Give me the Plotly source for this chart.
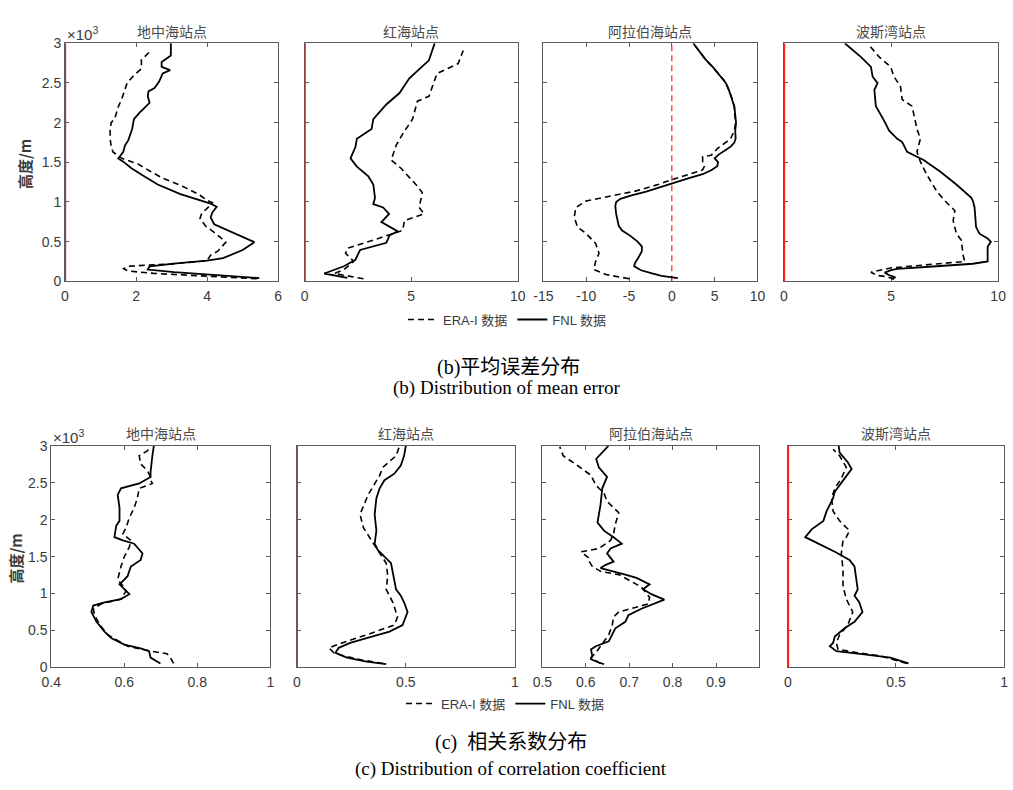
import plotly.graph_objects as go

W, H = 1013, 790

stations = ["地中海站点", "红海站点", "阿拉伯海站点", "波斯湾站点"]

# ---------- (b) mean error ----------
me_med_fnl_h = [41, 74, 115, 148, 190, 230, 260, 292, 395, 494, 560, 640, 720, 807, 870, 940, 980, 1100, 1220, 1322, 1425, 1508, 1549, 1632, 1714, 1776, 1920, 2044, 2126, 2250, 2332, 2394, 2435, 2517, 2620, 2662, 2703, 2765, 2847, 3000]
me_med_fnl = [5.47, 4.36, 3.07, 2.33, 2.38, 3.2, 4.0, 4.45, 5.0, 5.33, 5.0, 4.55, 4.2, 4.1, 4.15, 4.27, 4.1, 3.25, 2.61, 2.24, 1.87, 1.64, 1.5, 1.64, 1.69, 1.78, 1.89, 1.94, 2.1, 2.38, 2.33, 2.35, 2.52, 2.65, 2.75, 2.96, 2.72, 2.72, 2.98, 2.98]
me_med_era_h = [33, 100, 130, 160, 190, 220, 260, 330, 380, 494, 600, 700, 790, 860, 920, 990, 1020, 1100, 1200, 1300, 1400, 1480, 1550, 1630, 1700, 1800, 1900, 2000, 2050, 2200, 2300, 2414, 2500, 2600, 2680, 2790, 2917]
me_med_era = [5.4, 2.5, 1.78, 1.65, 1.75, 3.0, 4.0, 4.1, 4.3, 4.53, 4.25, 3.95, 3.8, 3.85, 4.0, 4.15, 4.0, 3.75, 3.3, 2.75, 2.35, 2.05, 1.6, 1.35, 1.3, 1.27, 1.27, 1.3, 1.4, 1.5, 1.6, 1.69, 1.75, 1.95, 2.15, 2.15, 2.44]

me_red_fnl_h = [45, 99, 190, 272, 395, 486, 581, 630, 746, 849, 931, 972, 1055, 1220, 1322, 1446, 1549, 1693, 1796, 1838, 1920, 2044, 2229, 2373, 2559, 2785, 3000]
me_red_fnl = [2.0, 0.92, 1.84, 2.38, 2.6, 3.83, 3.99, 4.37, 3.6, 3.96, 3.68, 3.22, 3.3, 3.22, 2.99, 2.45, 2.15, 2.38, 2.45, 2.68, 3.14, 3.22, 3.83, 4.45, 4.91, 5.83, 6.1]
me_red_era_h = [33, 99, 148, 251, 354, 416, 519, 643, 766, 849, 931, 1117, 1199, 1425, 1529, 1714, 1858, 2044, 2270, 2332, 2620, 2744, 2909]
me_red_era = [2.76, 1.4, 1.84, 2.3, 1.92, 2.0, 3.22, 4.6, 4.68, 5.6, 5.37, 5.52, 5.29, 4.52, 4.06, 4.29, 4.6, 5.06, 5.29, 5.83, 6.21, 7.2, 7.44]

me_ara_fnl_h = [40, 70, 100, 140, 190, 230, 300, 380, 440, 500, 570, 640, 700, 780, 850, 950, 1000, 1040, 1080, 1130, 1180, 1230, 1260, 1300, 1350, 1400, 1450, 1500, 1550, 1600, 1650, 1700, 1750, 1800, 1900, 2000, 2100, 2200, 2300, 2400, 2500, 2600, 2700, 2800, 3000]
me_ara_fnl = [0.7, -1.2, -2.3, -3.6, -4.4, -4.3, -3.9, -3.5, -3.5, -4.0, -4.8, -5.8, -6.2, -6.4, -6.5, -6.6, -6.5, -6.0, -4.8, -3.0, -1.5, -0.3, 0.8, 2.0, 3.6, 4.6, 5.3, 5.4, 5.0, 5.5, 6.2, 6.9, 7.3, 7.45, 7.4, 7.5, 7.4, 7.3, 7.0, 6.7, 6.3, 5.6, 4.8, 3.9, 2.5]
me_ara_era_h = [33, 86, 148, 251, 354, 478, 601, 684, 807, 931, 1013, 1075, 1137, 1220, 1281, 1343, 1405, 1450, 1508, 1570, 1590, 1673, 1796, 1900, 2000, 2100, 2200, 2300, 2400, 2500, 2600, 2700, 2800, 3000]
me_ara_era = [-5.0, -7.7, -9.1, -8.9, -8.5, -8.9, -10.0, -11.0, -11.4, -11.2, -10.0, -7.3, -4.26, -1.6, -0.04, 1.87, 3.6, 3.8, 3.6, 3.6, 4.6, 5.32, 6.86, 7.3, 7.45, 7.35, 7.3, 7.05, 6.7, 6.35, 5.6, 4.8, 3.9, 2.5]

me_per_fnl_h = [30, 50, 80, 110, 140, 157, 190, 222, 251, 437, 499, 540, 601, 684, 931, 1014, 1055, 1220, 1384, 1529, 1632, 1673, 1755, 1796, 1899, 2023, 2208, 2414, 2497, 2579, 2703, 2826, 3000]
me_per_fnl = [5.0, 5.2, 4.9, 4.7, 5.0, 5.29, 7.13, 8.82, 9.51, 9.51, 9.66, 9.51, 9.13, 8.97, 8.9, 8.82, 8.74, 8.05, 7.29, 6.52, 5.75, 5.67, 5.52, 5.29, 4.91, 4.68, 4.29, 4.22, 4.37, 4.14, 4.06, 3.6, 2.84]
me_per_era_h = [25, 58, 74, 115, 169, 210, 251, 334, 519, 601, 766, 890, 1014, 1137, 1343, 1508, 1632, 1796, 1920, 2208, 2290, 2455, 2579, 2703, 2826, 2971]
me_per_era = [5.14, 4.83, 4.37, 4.06, 4.98, 6.83, 8.44, 8.36, 8.28, 8.05, 7.9, 7.98, 7.52, 7.13, 6.67, 6.37, 6.21, 6.37, 6.21, 5.98, 5.52, 5.44, 5.14, 4.98, 4.45, 3.99]

# ---------- (c) correlation coefficient ----------
cc_med_fnl_h = [53, 132, 220, 256, 309, 397, 485, 617, 750, 838, 882, 926, 992, 1058, 1125, 1169, 1235, 1367, 1455, 1544, 1676, 1720, 1764, 1918, 1985, 2161, 2337, 2426, 2492, 2580, 2647, 2867, 3000]
cc_med_fnl = [0.699, 0.672, 0.668, 0.645, 0.6, 0.564, 0.546, 0.524, 0.51, 0.515, 0.546, 0.591, 0.614, 0.6, 0.587, 0.596, 0.609, 0.618, 0.645, 0.65, 0.627, 0.596, 0.573, 0.578, 0.587, 0.587, 0.582, 0.591, 0.641, 0.672, 0.672, 0.677, 0.681]
cc_med_era_h = [53, 132, 185, 220, 287, 441, 573, 706, 794, 860, 926, 1036, 1103, 1191, 1367, 1499, 1632, 1720, 1808, 1896, 2029, 2161, 2293, 2426, 2492, 2536, 2580, 2668, 2756, 2867, 2933, 2990]
cc_med_era = [0.735, 0.726, 0.717, 0.672, 0.609, 0.555, 0.533, 0.519, 0.515, 0.537, 0.591, 0.605, 0.596, 0.582, 0.591, 0.6, 0.614, 0.618, 0.596, 0.605, 0.614, 0.627, 0.636, 0.641, 0.677, 0.672, 0.672, 0.663, 0.645, 0.641, 0.663, 0.672]

cc_red_fnl_h = [44, 79, 132, 198, 265, 331, 397, 485, 573, 750, 882, 970, 1058, 1279, 1411, 1477, 1588, 1676, 1852, 2073, 2293, 2426, 2536, 2624, 2735, 2867, 3000]
cc_red_fnl = [0.41, 0.32, 0.23, 0.177, 0.192, 0.245, 0.32, 0.425, 0.485, 0.508, 0.492, 0.477, 0.455, 0.44, 0.432, 0.41, 0.372, 0.357, 0.365, 0.357, 0.365, 0.38, 0.402, 0.447, 0.477, 0.492, 0.5]
cc_red_era_h = [53, 97, 154, 198, 265, 331, 441, 529, 573, 684, 882, 1058, 1235, 1411, 1544, 1720, 1896, 2073, 2337, 2602, 2712, 2867, 2990]
cc_red_era = [0.395, 0.305, 0.215, 0.17, 0.147, 0.207, 0.32, 0.41, 0.447, 0.462, 0.44, 0.41, 0.417, 0.41, 0.38, 0.342, 0.305, 0.29, 0.327, 0.38, 0.395, 0.455, 0.47]

cc_ara_fnl_h = [44, 66, 110, 154, 243, 287, 353, 529, 617, 706, 794, 917, 992, 1058, 1125, 1169, 1213, 1257, 1301, 1345, 1389, 1433, 1544, 1610, 1676, 1764, 1852, 1962, 2205, 2426, 2580, 2712, 2823, 2911, 3000]
cc_ara_fnl = [0.642, 0.63, 0.612, 0.615, 0.612, 0.623, 0.653, 0.668, 0.691, 0.698, 0.728, 0.781, 0.751, 0.732, 0.747, 0.732, 0.717, 0.691, 0.661, 0.634, 0.646, 0.664, 0.649, 0.657, 0.683, 0.664, 0.642, 0.627, 0.634, 0.638, 0.649, 0.63, 0.624, 0.638, 0.652]
cc_ara_era_h = [53, 88, 132, 198, 287, 441, 573, 684, 750, 860, 948, 1080, 1125, 1191, 1257, 1301, 1367, 1433, 1477, 1566, 1610, 1720, 1808, 1940, 2095, 2249, 2359, 2470, 2602, 2735, 2867, 2990]
cc_ara_era = [0.634, 0.623, 0.612, 0.623, 0.634, 0.653, 0.661, 0.664, 0.676, 0.744, 0.747, 0.729, 0.717, 0.698, 0.676, 0.634, 0.615, 0.608, 0.608, 0.589, 0.63, 0.657, 0.664, 0.668, 0.676, 0.649, 0.642, 0.623, 0.612, 0.581, 0.548, 0.54]

cc_per_fnl_h = [53, 132, 176, 220, 287, 331, 419, 529, 617, 750, 882, 970, 1058, 1235, 1367, 1455, 1566, 1676, 1764, 1874, 1985, 2117, 2293, 2381, 2470, 2580, 2690, 2779, 2911, 3000]
cc_per_fnl = [0.558, 0.474, 0.353, 0.224, 0.194, 0.209, 0.217, 0.262, 0.308, 0.345, 0.33, 0.308, 0.323, 0.315, 0.308, 0.285, 0.217, 0.141, 0.08, 0.111, 0.164, 0.179, 0.209, 0.217, 0.239, 0.27, 0.295, 0.277, 0.239, 0.235]
cc_per_era_h = [53, 88, 154, 198, 243, 331, 441, 573, 750, 926, 1103, 1323, 1544, 1720, 1764, 1852, 1985, 2117, 2293, 2426, 2558, 2712, 2867, 2955]
cc_per_era = [0.55, 0.505, 0.429, 0.323, 0.232, 0.224, 0.239, 0.277, 0.3, 0.27, 0.255, 0.255, 0.247, 0.255, 0.27, 0.285, 0.239, 0.209, 0.202, 0.217, 0.247, 0.27, 0.239, 0.209]

# axis ranges & ticks
me_ranges = [[0, 6], [0, 10], [-15, 10], [0, 10]]
me_ticks = [[0, 2, 4, 6], [0, 5, 10], [-15, -10, -5, 0, 5, 10], [0, 5, 10]]
me_ticktext = [["0", "2", "4", "6"], ["0", "5", "10"], ["-15", "-10", "-5", "0", "5", "10"], ["0", "5", "10"]]
cc_ranges = [[0.4, 1], [0, 1], [0.5, 1], [0, 1]]
cc_ticks = [[0.4, 0.6, 0.8, 1.0], [0, 0.5, 1.0], [0.5, 0.6, 0.7, 0.8, 0.9], [0, 0.5, 1.0]]
cc_ticktext = [["0.4", "0.6", "0.8", "1"], ["0", "0.5", "1"], ["0.5", "0.6", "0.7", "0.8", "0.9"], ["0", "0.5", "1"]]

h_ticks = [0, 500, 1000, 1500, 2000, 2500, 3000]
h_ticktext = ["0", "0.5", "1", "1.5", "2", "2.5", "3"]
h_range = [0, 3000]
zero_line_x = [0, 0]
zero_line_y = [0, 3000]

me_series = [
    (me_med_era_h, me_med_era, me_med_fnl_h, me_med_fnl),
    (me_red_era_h, me_red_era, me_red_fnl_h, me_red_fnl),
    (me_ara_era_h, me_ara_era, me_ara_fnl_h, me_ara_fnl),
    (me_per_era_h, me_per_era, me_per_fnl_h, me_per_fnl),
]
cc_series = [
    (cc_med_era_h, cc_med_era, cc_med_fnl_h, cc_med_fnl),
    (cc_red_era_h, cc_red_era, cc_red_fnl_h, cc_red_fnl),
    (cc_ara_era_h, cc_ara_era, cc_ara_fnl_h, cc_ara_fnl),
    (cc_per_era_h, cc_per_era, cc_per_fnl_h, cc_per_fnl),
]

# ---------- layout geometry (pixels) ----------
top_x = [(56, 273), (300, 517), (543, 761), (788, 1006)]
top_y = (36, 279)
bot_x = [(42, 265), (292, 514), (542, 763), (792, 1012)]
bot_y = (447, 673)


def px(x):
    return x / W


def py(y):
    return 1 - y / H


TICKFONT = dict(family="Liberation Sans, Arial, sans-serif", size=14, color="#3a3a3a")
AXCOL = "#5a5a5a"

fig = go.Figure()
layout = dict(
    width=W, height=H, autosize=False,
    margin=dict(l=0, r=0, t=0, b=0),
    paper_bgcolor="white", plot_bgcolor="white",
    showlegend=True,
)
annotations = []

rows = [
    (me_series, me_ranges, me_ticks, me_ticktext, top_x, top_y, "legend", [True, True, False, True]),
    (cc_series, cc_ranges, cc_ticks, cc_ticktext, bot_x, bot_y, "legend2", [False, True, False, True]),
]

k = 0
for r, (series, ranges, ticks, ticktext, xs, ys, legname, redsolid) in enumerate(rows):
    for c in range(4):
        k += 1
        xa = "x" if k == 1 else f"x{k}"
        ya = "y" if k == 1 else f"y{k}"
        xkey = "xaxis" if k == 1 else f"xaxis{k}"
        ykey = "yaxis" if k == 1 else f"yaxis{k}"
        era_h, era_v, fnl_h, fnl_v = series[c]

        # red zero line
        show_red = (ranges[c][0] <= 0 <= ranges[c][1])
        if show_red:
            fig.add_trace(go.Scatter(
                x=zero_line_x, y=zero_line_y, xaxis=xa, yaxis=ya, mode="lines",
                line=dict(color="#ff2020", width=2.4 if redsolid[c] else 1.2,
                          dash="solid" if redsolid[c] else "6px,4px"),
                showlegend=False, hoverinfo="skip"))

        fig.add_trace(go.Scatter(
            x=era_v, y=era_h, xaxis=xa, yaxis=ya, mode="lines",
            name="ERA-I 数据", legend=legname, showlegend=(c == 0),
            line=dict(color="black", width=1.6, dash="6px,4px")))
        fig.add_trace(go.Scatter(
            x=fnl_v, y=fnl_h, xaxis=xa, yaxis=ya, mode="lines",
            name="FNL 数据", legend=legname, showlegend=(c == 0),
            line=dict(color="black", width=1.8)))

        common = dict(showgrid=False, zeroline=False, showline=True, linecolor=AXCOL,
                      linewidth=1, mirror="allticks", ticks="inside", ticklen=4,
                      tickcolor=AXCOL, tickfont=TICKFONT, layer="below traces")
        layout[xkey] = dict(common, domain=[px(xs[c][0]), px(xs[c][1])], anchor=ya,
                            range=ranges[c], tickmode="array", tickvals=ticks[c],
                            ticktext=ticktext[c], ticklabelstandoff=2)
        layout[ykey] = dict(common, domain=[py(ys[1]), py(ys[0])], anchor=xa,
                            range=h_range, tickmode="array", tickvals=h_ticks,
                            ticktext=h_ticktext, showticklabels=(c == 0))

        # panel title
        annotations.append(dict(
            text=stations[c], xref="paper", yref="paper",
            x=px((xs[c][0] + xs[c][1]) / 2), y=py(ys[0] - 13),
            xanchor="center", yanchor="middle", showarrow=False,
            font=dict(family="Noto Sans CJK SC", size=14, color="#4a4a4a")))

    # x10^3 label
    annotations.append(dict(
        text="×10<sup>3</sup>", xref="paper", yref="paper",
        x=px(xs[0][0]), y=py(ys[0] - 10), xanchor="left", yanchor="middle",
        showarrow=False, font=dict(family="Liberation Sans, Arial", size=15, color="#3a3a3a")))
    # y-axis title
    annotations.append(dict(
        text="<b>高度/m</b>", xref="paper", yref="paper",
        x=px(15 if r == 0 else 6), y=py((ys[0] + ys[1]) / 2 + 2), textangle=-90,
        xanchor="center", yanchor="middle", showarrow=False,
        font=dict(family="Noto Sans CJK SC, Liberation Sans", size=15, color="#3a3a3a")))

legfont = dict(family="Liberation Sans, Noto Sans CJK SC", size=13, color="#3a3a3a")
layout["legend"] = dict(orientation="h", x=px(506), y=py(318), xanchor="center", yanchor="middle",
                        font=legfont, itemwidth=30, bgcolor="rgba(0,0,0,0)", traceorder="normal")
layout["legend2"] = dict(orientation="h", x=px(504), y=py(710), xanchor="center", yanchor="middle",
                         font=legfont, itemwidth=30, bgcolor="rgba(0,0,0,0)", traceorder="normal")

captions = [
    ("(b)平均误差分布", 508, 367, "Liberation Serif, Noto Sans CJK SC", 20),
    ("(b) Distribution of mean error", 506, 388, "Liberation Serif, Times New Roman", 19),
    ("(c)  相关系数分布", 510, 750, "Liberation Serif, Noto Sans CJK SC", 20),
    ("(c) Distribution of correlation coefficient", 510, 777, "Liberation Serif, Times New Roman", 19),
]
for text, x, y, fam, size in captions:
    annotations.append(dict(text=text, xref="paper", yref="paper", x=px(x), y=py(y),
                            xanchor="center", yanchor="middle", showarrow=False,
                            font=dict(family=fam, size=size, color="black")))

layout["annotations"] = annotations
fig.update_layout(**layout)
fig.write_html("out.html")
